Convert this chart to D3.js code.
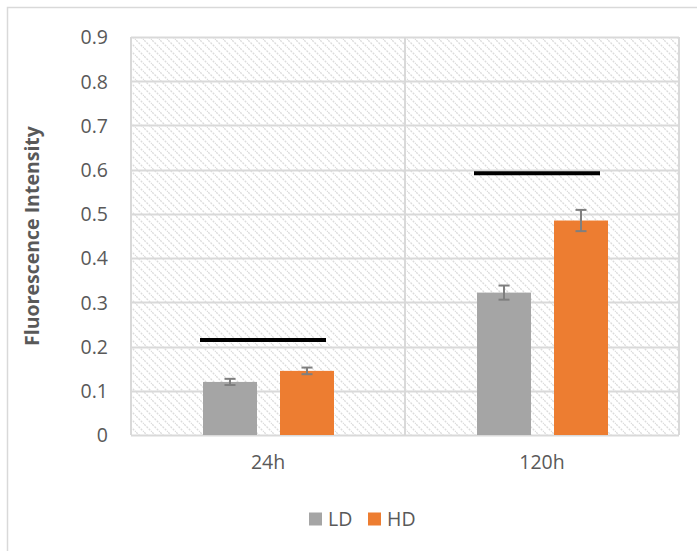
<!DOCTYPE html>
<html>
<head>
<meta charset="utf-8">
<script src="https://cdn.jsdelivr.net/npm/d3@7"></script>
<style>
  html, body { margin: 0; padding: 0; background: #fff; }
  svg { display: block; }
  text { font-family: "Open Sans", "Noto Sans", sans-serif; fill: #595959; }
</style>
</head>
<body>
<svg id="chart" width="697" height="551"></svg>
<script>
const categories = ["24h", "120h"];
const seriesNames = ["LD", "HD"];
const ldValues = [0.12, 0.322];
const hdValues = [0.145, 0.485];
const ldErrors = [0.007, 0.016];
const hdErrors = [0.0075, 0.024];
const sigLineValues = [0.215, 0.592];
const yTicks = [0, 0.1, 0.2, 0.3, 0.4, 0.5, 0.6, 0.7, 0.8, 0.9];
const seriesColors = ["#a5a5a5", "#ed7d31"];

const svg = d3.select("#chart");
const W = 697, H = 551;
const plot = { left: 131, right: 679, top: 37, bottom: 435 };

svg.append("rect").attr("x", 7.5).attr("y", 7.5).attr("width", W + 10).attr("height", H + 10)
  .attr("fill", "#fff").attr("stroke", "#d9d9d9").attr("stroke-width", 1.5);

const defs = svg.append("defs");
const pat = defs.append("pattern").attr("id", "hatch").attr("patternUnits", "userSpaceOnUse")
  .attr("width", 8).attr("height", 8);
pat.append("rect").attr("width", 8).attr("height", 8).attr("fill", "#fff");
pat.append("path").attr("d", "M-2,-2 L10,10 M-2,6 L2,10 M6,-2 L10,2")
  .attr("stroke", "#dcdcdc").attr("stroke-width", 1.3).attr("stroke-dasharray", "2,1.2");

const x = d3.scaleBand().domain(categories).range([plot.left, plot.right]).padding(0);
const y = d3.scaleLinear().domain([0, 0.9]).range([plot.bottom, plot.top]);

svg.append("rect").attr("x", plot.left).attr("y", plot.top)
  .attr("width", plot.right - plot.left).attr("height", plot.bottom - plot.top)
  .attr("fill", "url(#hatch)");

svg.append("g").selectAll("line").data(yTicks).join("line")
  .attr("x1", plot.left).attr("x2", plot.right)
  .attr("y1", d => Math.round(y(d)) + 0.5).attr("y2", d => Math.round(y(d)) + 0.5)
  .attr("stroke", "#d9d9d9").attr("stroke-width", 2);

const seps = [plot.left, x(categories[1]), plot.right];
svg.append("g").selectAll("line").data(seps).join("line")
  .attr("x1", d => d).attr("x2", d => d)
  .attr("y1", plot.top).attr("y2", plot.bottom)
  .attr("stroke", "#d9d9d9").attr("stroke-width", 2);

const yAxis = d3.axisLeft(y).tickValues(yTicks).tickSize(0).tickPadding(0)
  .tickFormat(d => d === 0 ? "0" : d3.format(".1f")(d));
const yg = svg.append("g").attr("transform", `translate(${plot.left - 23},0)`).call(yAxis);
yg.select(".domain").remove();
yg.selectAll("text").attr("font-size", 19.5).attr("fill", "#595959")
  .style("font-family", "'Open Sans', sans-serif").attr("dy", "0.35em");

const xAxis = d3.axisBottom(x).tickSize(0).tickPadding(0);
const xg = svg.append("g").attr("transform", `translate(0,${plot.bottom + 20})`).call(xAxis);
xg.select(".domain").remove();
xg.selectAll("text").attr("font-size", 19.5).attr("fill", "#595959")
  .style("font-family", "'Open Sans', sans-serif").attr("dy", "0.71em");

const barW = 54;
const offsets = [-65, 12];
const data = categories.map((c, i) => ({ c, vals: [ldValues[i], hdValues[i]], errs: [ldErrors[i], hdErrors[i]] }));
const cx = c => x(c) + x.bandwidth() / 2;

data.forEach(d => {
  d.vals.forEach((v, s) => {
    const bx = cx(d.c) + offsets[s];
    svg.append("rect").attr("x", bx).attr("y", y(v)).attr("width", barW)
      .attr("height", y(0) - y(v)).attr("fill", seriesColors[s]);
    const e = d.errs[s];
    const mx = bx + barW / 2;
    const g = svg.append("g").attr("stroke", "#7f7f7f").attr("stroke-width", 2);
    g.append("line").attr("x1", mx).attr("x2", mx).attr("y1", y(v + e)).attr("y2", y(v - e));
    g.append("line").attr("x1", mx - 5.5).attr("x2", mx + 5.5).attr("y1", y(v + e)).attr("y2", y(v + e));
    g.append("line").attr("x1", mx - 5.5).attr("x2", mx + 5.5).attr("y1", y(v - e)).attr("y2", y(v - e));
  });
});

categories.forEach((c, i) => {
  svg.append("line").attr("x1", cx(c) - 68).attr("x2", cx(c) + 58)
    .attr("y1", y(sigLineValues[i])).attr("y2", y(sigLineValues[i]))
    .attr("stroke", "#000").attr("stroke-width", 4);
});

svg.append("text")
  .attr("transform", `translate(39,${(plot.top + plot.bottom) / 2}) rotate(-90)`)
  .attr("text-anchor", "middle").attr("font-size", 19.5).attr("font-weight", "bold")
  .attr("fill", "#595959").text("Fluorescence Intensity");

const legX = [309, 368];
seriesNames.forEach((n, i) => {
  svg.append("rect").attr("x", legX[i]).attr("y", 512.5).attr("width", 13).attr("height", 13)
    .attr("fill", seriesColors[i]);
  svg.append("text").attr("x", legX[i] + 19).attr("y", 519).attr("dy", "0.35em")
    .attr("font-size", 19.5).attr("fill", "#595959").text(n);
});
</script>
</body>
</html>
